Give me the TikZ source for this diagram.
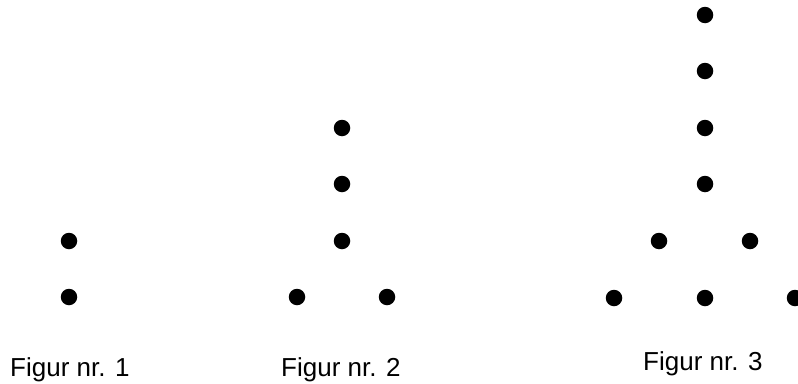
\documentclass[tikz,border=0pt]{standalone}
\usepackage{fontspec}
\setmainfont{Liberation Sans}
\begin{document}
\begin{tikzpicture}[x=1pt,y=-1pt,
  dot/.style={circle,fill=black,inner sep=0pt,minimum size=16.5pt},
  lbl/.style={font=\fontsize{26}{30}\selectfont,inner sep=0pt,anchor=base west}]
\clip (0,0) rectangle (798,383);
\useasboundingbox (0,0) rectangle (798,383);
% Figur 1
\node[dot] (a1) at (69,241) {};
\node[dot] (a2) at (69,297) {};
% Figur 2
\node[dot] (b1) at (342,128) {};
\node[dot] (b2) at (342,184) {};
\node[dot] (b3) at (342,241) {};
\node[dot] (b4) at (297,297) {};
\node[dot] (b5) at (387,297) {};
% Figur 3
\node[dot] (c1) at (705,15) {};
\node[dot] (c2) at (705,71) {};
\node[dot] (c3) at (705,128) {};
\node[dot] (c4) at (705,184) {};
\node[dot] (c5) at (659,241) {};
\node[dot] (c6) at (750,241) {};
\node[dot] (c7) at (614,298) {};
\node[dot] (c8) at (705,298) {};
\node[dot] (c9) at (795,298) {};
% labels
\node[lbl] (l1) at (10,376) {Figur nr. 1};
\node[lbl] (l2) at (281,376) {Figur nr. 2};
\node[lbl] (l3) at (643,370) {Figur nr. 3};
\end{tikzpicture}
\end{document}
